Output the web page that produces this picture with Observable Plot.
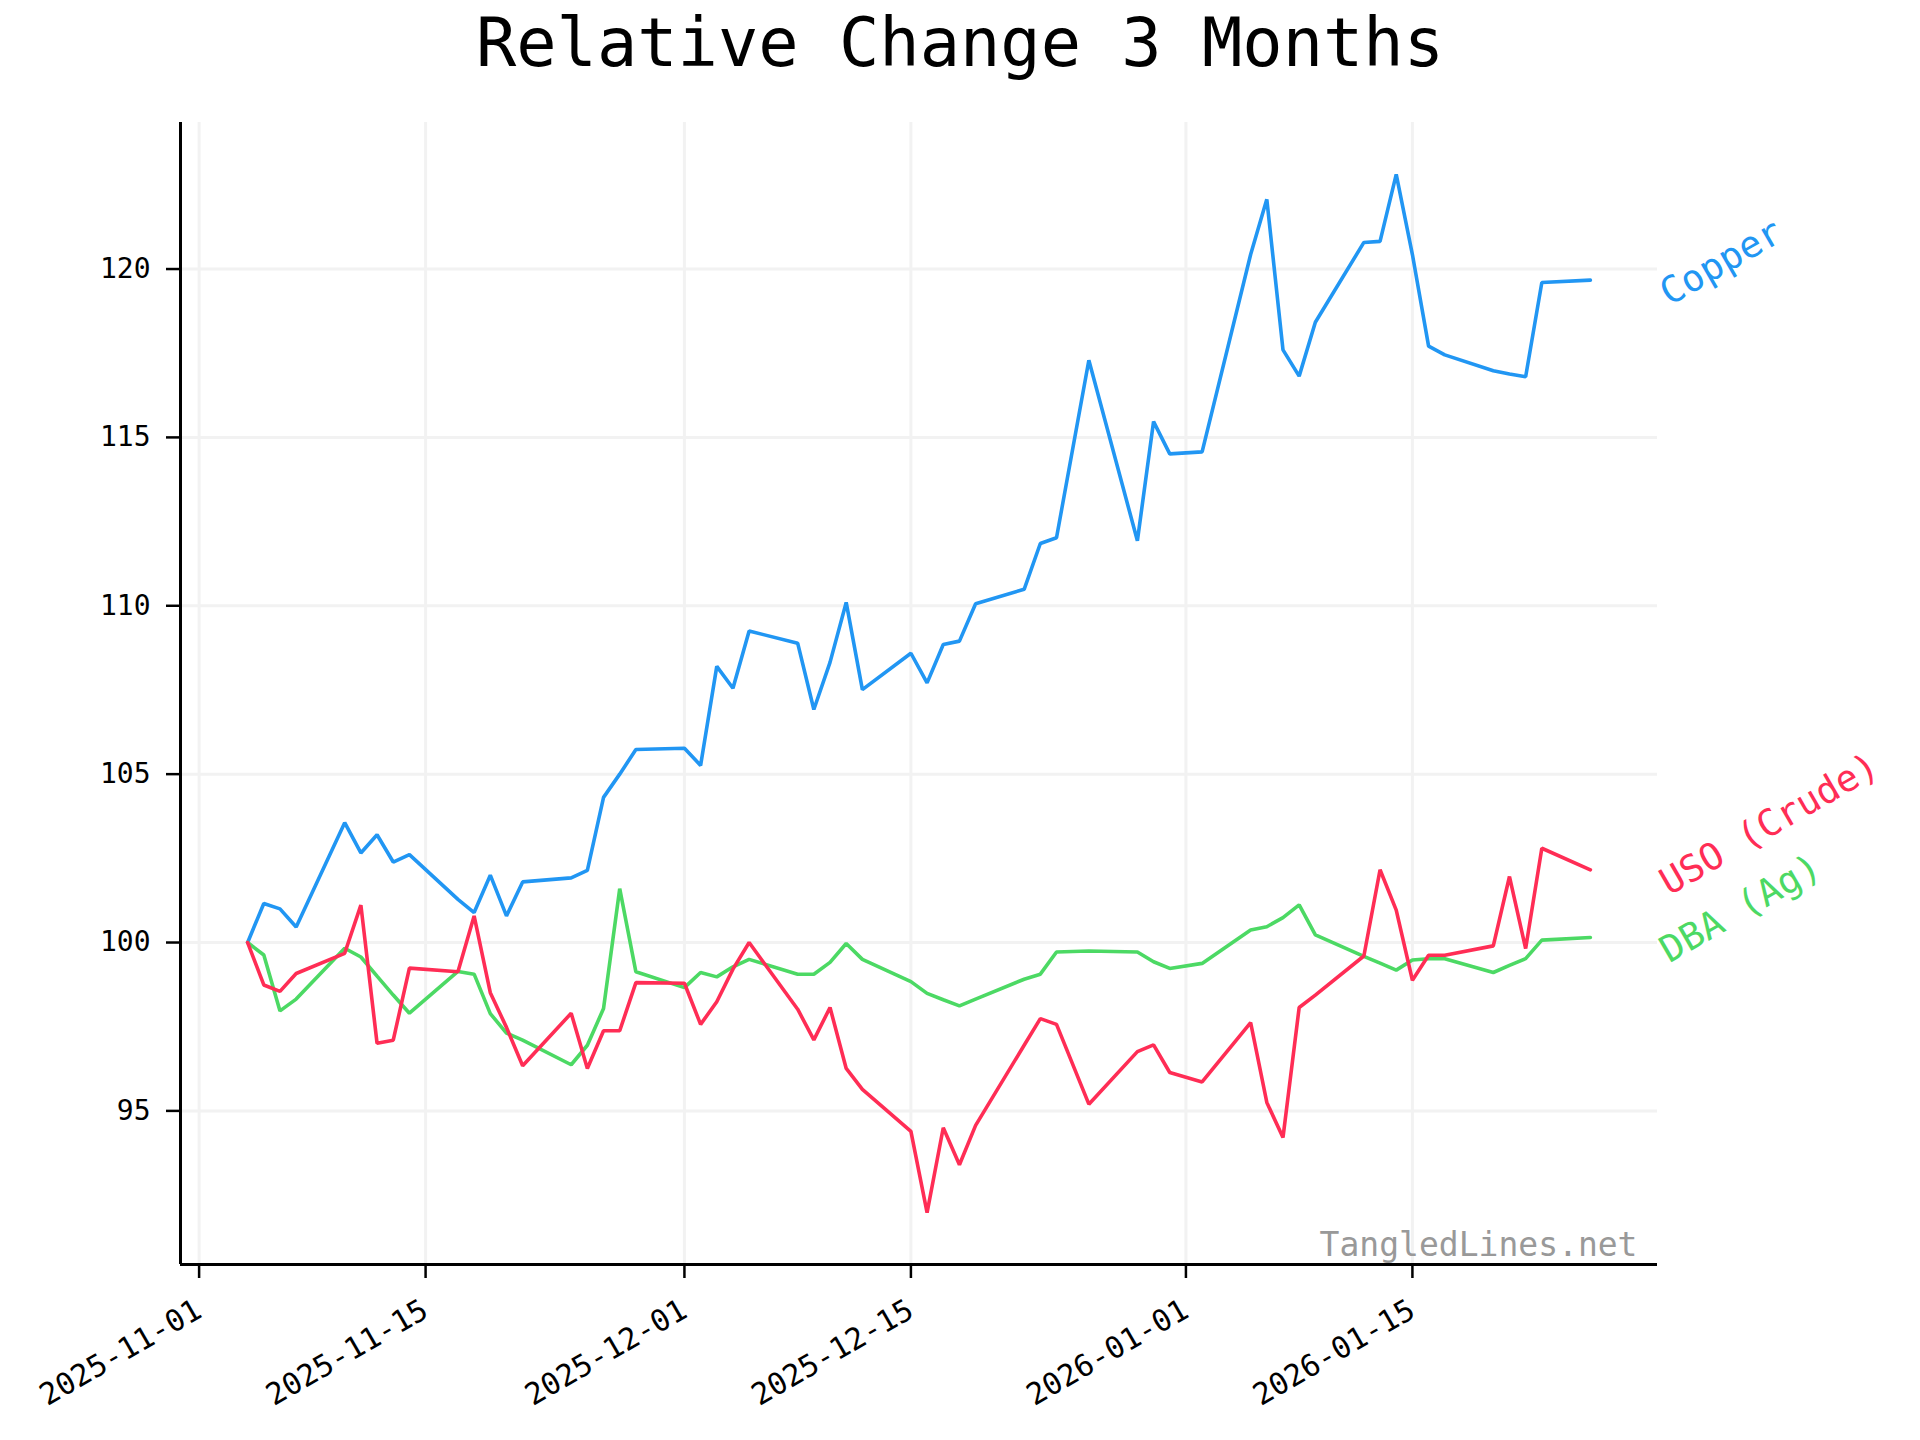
<!DOCTYPE html>
<html><head><meta charset="utf-8">
<script src="https://cdn.jsdelivr.net/npm/d3@7"></script>
<script src="https://cdn.jsdelivr.net/npm/@observablehq/plot@0.6"></script>
<style>
html,body{margin:0;padding:0;background:#fff;}
#title{width:1920px;height:100px;line-height:86px;text-align:center;font-family:"DejaVu Sans Mono",monospace;font-size:67px;color:#000;white-space:pre;}
#chart svg{display:block}
</style></head><body>
<div id="title">Relative Change 3 Months</div>
<div id="chart"></div>
<script>
const dates = [
  "2025-11-04","2025-11-05","2025-11-06","2025-11-07","2025-11-10","2025-11-11","2025-11-12","2025-11-13","2025-11-14",
  "2025-11-17","2025-11-18","2025-11-19","2025-11-20","2025-11-21","2025-11-24","2025-11-25","2025-11-26","2025-11-27","2025-11-28",
  "2025-12-01","2025-12-02","2025-12-03","2025-12-04","2025-12-05","2025-12-08","2025-12-09","2025-12-10","2025-12-11","2025-12-12",
  "2025-12-15","2025-12-16","2025-12-17","2025-12-18","2025-12-19","2025-12-22","2025-12-23","2025-12-24","2025-12-26",
  "2025-12-29","2025-12-30","2025-12-31",
  "2026-01-02","2026-01-05","2026-01-06","2026-01-07","2026-01-08","2026-01-09","2026-01-12","2026-01-13","2026-01-14","2026-01-15",
  "2026-01-16","2026-01-17","2026-01-20","2026-01-21","2026-01-22","2026-01-23","2026-01-26"
];
const copper = [
  100.0, 101.16, 101.0, 100.46, 103.56, 102.66, 103.2, 102.39, 102.61, 101.28, 100.89, 102.0, 100.79, 101.8, 101.92, 102.14, 104.31, 105.0, 105.73,
  105.77, 105.26, 108.2, 107.55, 109.25, 108.89, 106.92, 108.32, 110.1, 107.51, 108.59, 107.71, 108.85, 108.95, 110.06, 110.49, 111.85, 112.02, 117.29, 111.93, 115.47, 114.51,
  114.57, 120.43, 122.07, 117.6, 116.82, 118.42, 120.79, 120.82, 122.81, 120.43, 117.71, 117.45, 116.98, 116.88, 116.8, 119.6, 119.67
];
const uso = [
  100.0, 98.74, 98.55, 99.08, 99.68, 101.11, 97.01, 97.1, 99.24, 99.13, 100.79, 98.51, 97.48, 96.34, 97.9, 96.26, 97.38, 97.38, 98.81,
  98.79, 97.57, 98.24, 99.21, 100.0, 98.02, 97.11, 98.07, 96.26, 95.64, 94.39, 91.98, 94.5, 93.4, 94.57, 96.95, 97.74, 97.57, 95.2, 96.76, 96.96, 96.14,
  95.86, 97.62, 95.25, 94.21, 98.07, 98.44, 99.6, 102.16, 100.96, 98.88, 99.62, 99.62, 99.9, 101.96, 99.82, 102.8, 102.16
];
const dba = [
  100.0, 99.63, 97.97, 98.32, 99.83, 99.57, 99.0, 98.44, 97.9, 99.14, 99.06, 97.89, 97.31, 97.1, 96.37, 96.95, 98.04, 101.6, 99.13,
  98.66, 99.11, 98.98, 99.28, 99.5, 99.06, 99.06, 99.41, 99.97, 99.5, 98.84, 98.49, 98.3, 98.12, 98.32, 98.91, 99.06, 99.72, 99.75, 99.72, 99.43, 99.23,
  99.38, 100.37, 100.47, 100.74, 101.12, 100.23, 99.59, 99.39, 99.18, 99.48, 99.52, 99.52, 99.11, 99.32, 99.52, 100.07, 100.15
];
const seriesNames = ["Copper", "USO (Crude)", "DBA (Ag)"];
const seriesColors = ["#2196f3", "#ff2d55", "#4cd964"];
const drawOrder = ["Copper", "DBA (Ag)", "USO (Crude)"];
const xTickLabels = ["2025-11-01","2025-11-15","2025-12-01","2025-12-15","2026-01-01","2026-01-15"];
const yTicks = [95, 100, 105, 110, 115, 120];
const watermark = "TangledLines.net";

const parse = s => new Date(s + "T00:00:00Z");
const valuesBySeries = {"Copper": copper, "USO (Crude)": uso, "DBA (Ag)": dba};
const rows = drawOrder.flatMap(s => dates.map((d, i) => ({date: parse(d), value: valuesBySeries[s][i], series: s})));
const last = dates.length - 1;
const lastPoints = seriesNames.map(s => ({date: parse(dates[last]), value: valuesBySeries[s][last], series: s}));
const xTicks = xTickLabels.map(parse);

// matplotlib-like 5% margins
const [t0, t1] = d3.extent(rows, d => d.date);
const tp = (t1 - t0) * 0.05;
const [v0, v1] = d3.extent(rows, d => d.value);
const vp = (v1 - v0) * 0.05;
const xDomain = [new Date(+t0 - tp), new Date(+t1 + tp)];
const yDomain = [v0 - vp, v1 + vp];

const font = "DejaVu Sans Mono";
const chart = Plot.plot({
  width: 1920,
  height: 1340,
  marginTop: 22,
  marginRight: 263,
  marginBottom: 176,
  marginLeft: 180,
  style: {fontFamily: font, background: "#fff", color: "#000"},
  x: {type: "utc", domain: xDomain, label: null},
  y: {domain: yDomain, label: null},
  color: {domain: seriesNames, range: seriesColors},
  marks: [
    Plot.gridX(xTicks, {stroke: "#f2f2f2", strokeOpacity: 1, strokeWidth: 3}),
    Plot.gridY(yTicks, {stroke: "#f2f2f2", strokeOpacity: 1, strokeWidth: 3}),
    ...drawOrder.map(s => Plot.lineY(rows.filter(r => r.series === s), {x: "date", y: "value", stroke: "series", strokeWidth: 3.6, strokeLinejoin: "miter"})),
    Plot.axisY(yTicks, {tickSize: 14, tickPadding: 16, fontSize: 28, strokeWidth: 2.5, tickFormat: d => String(d), label: null}),
    Plot.axisX(xTicks, {tickSize: 14, strokeWidth: 2.5, tickFormat: () => "", label: null}),
    Plot.text(xTicks, {x: d => d, frameAnchor: "bottom", text: (d, i) => xTickLabels[i], rotate: -30, textAnchor: "end", lineAnchor: "top", dx: -6, dy: 33, fontSize: 30, fill: "#000"}),
    Plot.ruleX([xDomain[0]], {stroke: "#000", strokeWidth: 3}),
    Plot.ruleY([yDomain[0]], {stroke: "#000", strokeWidth: 3}),
    Plot.text(lastPoints, {x: "date", y: "value", text: "series", fill: "series", rotate: -30, textAnchor: "start", lineAnchor: "bottom", dx: 79, dy: 26, fontSize: 37}),
    Plot.text([watermark], {frameAnchor: "bottom-right", text: d => d, textAnchor: "end", lineAnchor: "bottom", dx: -20, dy: -9, fontSize: 33, fill: "#999"})
  ]
});
document.getElementById("chart").appendChild(chart);
</script>
</body></html>
